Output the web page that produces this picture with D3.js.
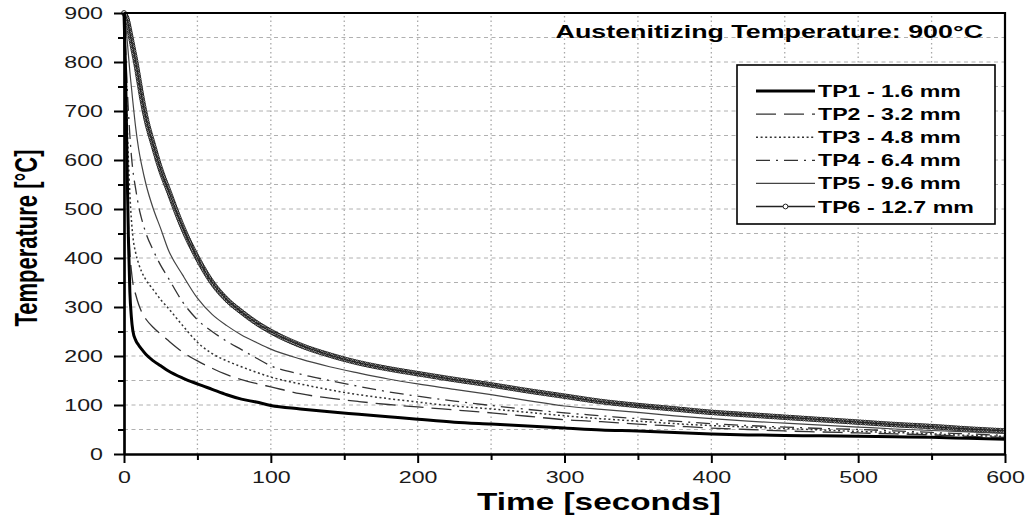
<!DOCTYPE html>
<html>
<head>
<meta charset="utf-8">
<script src="https://cdn.jsdelivr.net/npm/d3@7"></script>
<style>
  html, body { margin: 0; padding: 0; background: #fff; }
  svg { display: block; }
  text { font-family: "Liberation Sans", Arial, sans-serif; }
</style>
</head>
<body>
<svg id="chart" width="1034" height="529"></svg>
<script>
// Cooling curves of thermocouples TP1–TP6 (seconds, °C)
const times = [0, 1, 2, 3, 4, 5, 6, 8, 10, 12, 15, 20, 25, 30, 40, 50, 60, 70, 80, 90, 100,
  120, 140, 160, 180, 200, 225, 250, 275, 300, 325, 350, 375, 400, 425, 450, 475, 500, 525, 550, 575, 600];

const tp1 = [900, 790, 610, 440, 330, 280, 252, 232, 222, 214, 203, 190, 180, 170, 155, 143, 132, 121, 112, 106, 99,
  92, 86, 81, 76, 71, 65, 61, 57, 53, 49, 47, 44, 41, 39, 38, 37, 36, 35, 34, 32, 30];
const tp2 = [900, 720, 570, 470, 410, 375, 350, 325, 305, 290, 275, 258, 245, 232, 208, 190, 175, 162, 152, 144, 137,
  123, 114, 107, 101, 96, 90, 84, 77, 70, 66, 61, 57, 53, 50, 47, 45, 43, 41, 39, 36, 34];
const tp3 = [900, 800, 690, 600, 530, 480, 445, 410, 388, 372, 355, 335, 315, 298, 262, 228, 205, 190, 178, 167, 157,
  143, 131, 121, 113, 106, 98, 92, 85, 78, 72, 67, 62, 58, 55, 52, 49, 46, 44, 41, 38, 36];
const tp4 = [900, 830, 760, 700, 650, 610, 580, 540, 505, 480, 450, 415, 385, 360, 310, 274, 250, 230, 213, 196, 180,
  163, 150, 138, 127, 118, 108, 99, 91, 84, 78, 72, 67, 62, 58, 55, 52, 50, 47, 44, 41, 38];
const tp5 = [900, 880, 850, 815, 780, 750, 720, 665, 622, 590, 550, 500, 460, 418, 365, 318, 285, 262, 243, 228, 214,
  194, 178, 165, 153, 143, 132, 121, 109, 98, 91, 85, 78, 72, 67, 63, 59, 55, 51, 48, 45, 42];
const tp6 = [900, 895, 888, 875, 860, 845, 830, 800, 765, 730, 685, 630, 580, 540, 462, 400, 350, 315, 290, 268, 250,
  222, 202, 186, 174, 164, 152, 141, 129, 118, 107, 99, 92, 85, 80, 75, 70, 65, 60, 56, 51, 47];

const seriesLabels = ["TP1 - 1.6 mm", "TP2 - 3.2 mm", "TP3 - 4.8 mm", "TP4 - 6.4 mm", "TP5 - 9.6 mm", "TP6 - 12.7 mm"];
const xTicks = [0, 100, 200, 300, 400, 500, 600];
const yTicks = [0, 100, 200, 300, 400, 500, 600, 700, 800, 900];
const chartTitle = "Austenitizing Temperature: 900°C";
const xTitle = "Time [seconds]";
const yTitle = "Temperature [°C]";

// line styles, in series order
const styles = [
  { color: "#000", width: 3, dash: null },
  { color: "#333", width: 1.3, dash: "20,8" },
  { color: "#333", width: 1.5, dash: "2,2.6" },
  { color: "#333", width: 1.3, dash: "14,6,2,6" },
  { color: "#444", width: 1.2, dash: null },
  { color: "#222", width: 1.3, dash: null, marker: true }
];

const SX = 1.45; // horizontal stretch of all lettering

const svg = d3.select("#chart");
const x = d3.scaleLinear().domain([0, 600]).range([124, 1005]);
const y = d3.scaleLinear().domain([0, 900]).range([454, 13]);

// grid
const gridG = svg.append("g");
gridG.selectAll("line.h").data(d3.range(50, 900, 50)).join("line")
  .attr("x1", x(0)).attr("x2", x(600))
  .attr("y1", d => y(d)).attr("y2", d => y(d))
  .attr("stroke", "#b0b0b0").attr("stroke-width", 1).attr("stroke-dasharray", "4,3.5");
gridG.selectAll("line.v").data(d3.range(50, 600, 50)).join("line")
  .attr("x1", d => x(d)).attr("x2", d => x(d))
  .attr("y1", y(0)).attr("y2", y(900))
  .attr("stroke", "#a8a8a8").attr("stroke-width", 1.3).attr("stroke-dasharray", "1.5,3");

// curves
const series = [tp1, tp2, tp3, tp4, tp5, tp6];
const line = d3.line().x(d => x(d[0])).y(d => y(d[1])).curve(d3.curveMonotoneX);
const curveG = svg.append("g");
series.slice().reverse().forEach((vals, ri) => {
  const i = series.length - 1 - ri;
  const st = styles[i];
  const pts = times.map((t, k) => [t, vals[k]]);
  const p = curveG.append("path").datum(pts)
    .attr("d", line)
    .attr("fill", "none")
    .attr("stroke", st.color)
    .attr("stroke-width", st.width)
    .attr("stroke-linejoin", "round");
  if (st.dash) p.attr("stroke-dasharray", st.dash);
  if (st.marker) {
    // open circle markers laid along the trace
    const node = p.node();
    const L = node.getTotalLength();
    const marks = [];
    for (let s = 0; s <= L; s += 2.6) marks.push(node.getPointAtLength(s));
    curveG.append("g").selectAll("circle").data(marks).join("circle")
      .attr("cx", d => d.x).attr("cy", d => d.y).attr("r", 2.4)
      .attr("fill", "none").attr("stroke", st.color).attr("stroke-width", 1);
  }
});

// axes
const yAxis = svg.append("g").attr("transform", `translate(${x(0)},0)`)
  .call(d3.axisLeft(y).tickValues(yTicks).tickSize(10).tickPadding(10).tickSizeOuter(0));
yAxis.selectAll(".tick text").attr("x", 0).attr("dy", null)
  .attr("text-anchor", "end").attr("fill", "#1a1a1a").style("font-size", "16px")
  .attr("transform", `translate(-21,5.8) scale(${SX},1)`);
svg.append("g").attr("transform", `translate(${x(0)},0)`)
  .call(d3.axisLeft(y).tickValues(d3.range(50, 900, 100)).tickSize(6).tickFormat("").tickSizeOuter(0));

const xAxis = svg.append("g").attr("transform", `translate(0,${y(0)})`)
  .call(d3.axisBottom(x).tickValues(xTicks).tickSize(9).tickSizeOuter(0));
xAxis.selectAll(".tick text").attr("y", 0).attr("dy", null)
  .attr("text-anchor", "middle").attr("fill", "#1a1a1a").style("font-size", "16px")
  .attr("transform", `translate(0,29) scale(${SX},1)`);
svg.append("g").attr("transform", `translate(0,${y(0)})`)
  .call(d3.axisBottom(x).tickValues(d3.range(50, 600, 100)).tickSize(6).tickFormat("").tickSizeOuter(0));

svg.selectAll(".domain").attr("stroke", "#000").attr("stroke-width", 2.2);
svg.selectAll(".tick line").attr("stroke", "#000").attr("stroke-width", 2);

// frame top and right
svg.append("path")
  .attr("d", `M${x(0)},${y(900)}H${x(600)}V${y(0)}`)
  .attr("fill", "none").attr("stroke", "#000").attr("stroke-width", 2.2);

// axis titles
svg.append("text")
  .attr("transform", `translate(${599},${510}) scale(${SX},1)`)
  .attr("text-anchor", "middle")
  .style("font-size", "23px").style("font-weight", "bold")
  .text(xTitle);
svg.append("text")
  .attr("transform", `translate(37,238) scale(${SX},1) rotate(-90)`)
  .attr("text-anchor", "middle")
  .style("font-size", "22px").style("font-weight", "bold")
  .text(yTitle);

// chart title
svg.append("text")
  .attr("transform", `translate(983,38) scale(${SX},1)`)
  .attr("text-anchor", "end")
  .style("font-size", "18.5px").style("font-weight", "bold")
  .text(chartTitle);

// legend
const lg = svg.append("g");
lg.append("rect").attr("x", 737).attr("y", 65).attr("width", 258).attr("height", 159)
  .attr("fill", "#fff").attr("stroke", "#000").attr("stroke-width", 1.6);
seriesLabels.forEach((lab, i) => {
  const cy = 91 + i * 23.1;
  const st = styles[i];
  const l = lg.append("line").attr("x1", 756).attr("x2", 815).attr("y1", cy).attr("y2", cy)
    .attr("stroke", st.color).attr("stroke-width", st.width);
  if (st.dash) l.attr("stroke-dasharray", st.dash);
  if (st.marker) {
    lg.append("circle").attr("cx", 785.5).attr("cy", cy).attr("r", 2.4)
      .attr("fill", "#fff").attr("stroke", st.color).attr("stroke-width", 1);
  }
  lg.append("text")
    .attr("transform", `translate(818,${cy + 6}) scale(${SX},1)`)
    .style("font-size", "16px").style("font-weight", "bold")
    .text(lab);
});
</script>
</body>
</html>
